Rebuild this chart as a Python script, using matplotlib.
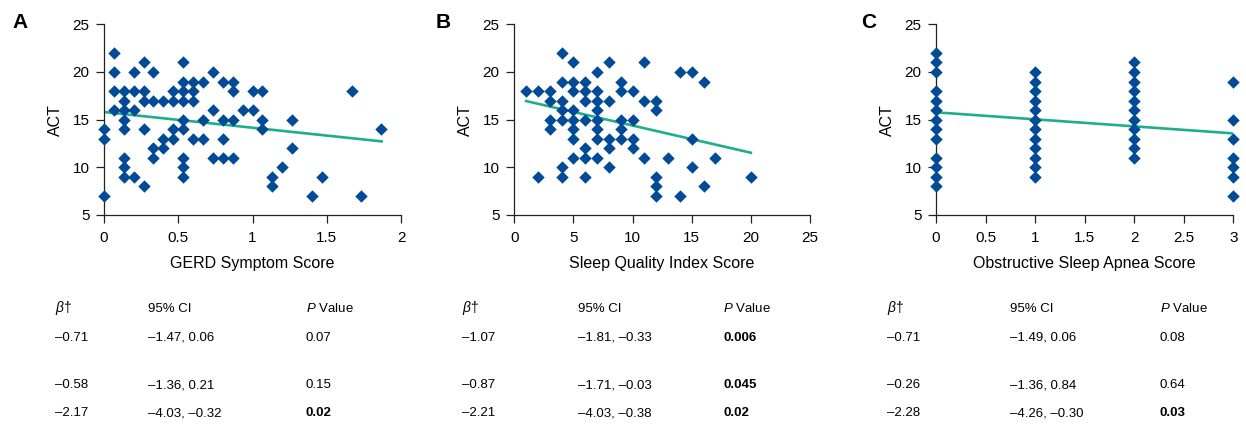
import numpy as np
import matplotlib.pyplot as plt

plt.rcParams['font.family'] = ['Liberation Sans', 'DejaVu Sans']
plt.rcParams['mathtext.fontset'] = 'custom'
plt.rcParams['mathtext.rm'] = 'Liberation Sans'
plt.rcParams['mathtext.it'] = 'Liberation Sans:italic'

# ACT values, grouped by x position
gerd_x = [0, 0.067, 0.133, 0.2, 0.267, 0.333, 0.4, 0.467, 0.533, 0.6, 0.667, 0.733,
          0.8, 0.867, 0.933, 1.0, 1.067, 1.133, 1.2, 1.267, 1.4, 1.467, 1.667, 1.733, 1.867]
gerd_act = [[14, 13, 7], [22, 20, 18, 16], [18, 17, 16, 15, 14, 11, 10, 9], [20, 18, 16, 9],
            [21, 18, 17, 14, 8], [20, 17, 12, 11], [17, 13, 12], [18, 17, 14, 13],
            [21, 19, 18, 17, 15, 14, 11, 10, 9], [19, 18, 17, 13], [19, 15, 13], [20, 16, 11],
            [19, 15, 13, 11], [19, 18, 15, 11], [16], [18, 16], [18, 15, 14], [9, 8], [10],
            [15, 12], [7], [9], [18], [7], [14]]

sleep_x = [1, 2, 3, 4, 5, 6, 7, 8, 9, 10, 11, 12, 13, 14, 15, 16, 17, 20]
sleep_act = [[18], [18, 9], [18, 17, 15, 14], [22, 19, 17, 16, 15, 10, 9],
             [21, 19, 18, 16, 15, 14, 13, 11], [19, 18, 17, 15, 12, 11, 9],
             [20, 18, 17, 16, 15, 14, 13, 11], [21, 17, 13, 12, 10], [19, 18, 15, 14, 13],
             [18, 15, 13, 12], [21, 17, 11], [17, 16, 9, 8, 7], [11], [20, 7], [20, 13, 10],
             [19, 8], [11], [9]]

osa_x = [0, 1, 2, 3]
osa_act = [[22, 21, 20, 18, 17, 16, 15, 14, 13, 11, 10, 9, 8],
           [20, 19, 18, 17, 16, 15, 14, 13, 12, 11, 10, 9],
           [21, 20, 19, 18, 17, 16, 15, 14, 13, 12, 11],
           [19, 15, 13, 11, 10, 9, 7]]

# fitted lines (end points)
gerd_fit_x, gerd_fit_y = [0, 1.87], [15.8, 12.72]
sleep_fit_x, sleep_fit_y = [1, 20], [16.95, 11.53]
osa_fit_x, osa_fit_y = [0, 3], [15.77, 13.56]

panel_letters = ['A', 'B', 'C']
x_labels = ['GERD Symptom Score', 'Sleep Quality Index Score', 'Obstructive Sleep Apnea Score']
x_ticks = [[0, 0.5, 1, 1.5, 2], [0, 5, 10, 15, 20, 25], [0, 0.5, 1, 1.5, 2, 2.5, 3]]
x_tick_labels = [['0', '0.5', '1', '1.5', '2'], ['0', '5', '10', '15', '20', '25'],
                 ['0', '0.5', '1', '1.5', '2', '2.5', '3']]

# table under each panel: beta, 95% CI, P value (bold = significant)
beta = [['–0.71', '–0.58', '–2.17'], ['–1.07', '–0.87', '–2.21'], ['–0.71', '–0.26', '–2.28']]
ci = [['–1.47, 0.06', '–1.36, 0.21', '–4.03, –0.32'],
      ['–1.81, –0.33', '–1.71, –0.03', '–4.03, –0.38'],
      ['–1.49, 0.06', '–1.36, 0.84', '–4.26, –0.30']]
pval = [['0.07', '0.15', '0.02'], ['0.006', '0.045', '0.02'], ['0.08', '0.64', '0.03']]
pbold = [[False, False, True], [True, True, True], [False, False, True]]

W, H = 1246, 428
fig = plt.figure(figsize=(W / 100, H / 100), dpi=100)

blue = '#004a98'
green = '#1fae8b'

# pixel rects (left, right) of each axes; y: 25 at 24.3px, 5 at 215px
ax_px = [(104, 401), (514.3, 810), (936, 1233.3)]
top_px, bot_px = 24.3, 215

datasets = [(gerd_x, gerd_act, gerd_fit_x, gerd_fit_y),
            (sleep_x, sleep_act, sleep_fit_x, sleep_fit_y),
            (osa_x, osa_act, osa_fit_x, osa_fit_y)]

for i, (xs, acts, fx, fy) in enumerate(datasets):
    l, r = ax_px[i]
    ax = fig.add_axes([l / W, 1 - bot_px / H, (r - l) / W, (bot_px - top_px) / H])
    px = np.concatenate([[x] * len(a) for x, a in zip(xs, acts)])
    py = np.concatenate(acts)
    ax.scatter(px, py, marker='D', s=40, color=blue, linewidths=0, clip_on=False, zorder=3)
    ax.plot(fx, fy, color=green, lw=1.9, zorder=2)

    ax.set_xlim(x_ticks[i][0], x_ticks[i][-1])
    ax.set_ylim(5, 25)
    ax.set_xticks(x_ticks[i])
    ax.set_xticklabels(x_tick_labels[i])
    ax.set_yticks([5, 10, 15, 20, 25])
    for s in ['top', 'right']:
        ax.spines[s].set_visible(False)
    for s in ['left', 'bottom']:
        ax.spines[s].set_linewidth(0.9)
        ax.spines[s].set_color('#222222')
    ax.tick_params(axis='both', direction='out', length=5.5, width=0.9, color='#222222',
                   labelsize=11)
    ax.tick_params(axis='x', pad=6)
    ax.tick_params(axis='y', pad=5)
    ax.set_xlabel(x_labels[i], fontsize=11.5, labelpad=8)
    ax.set_ylabel('ACT', fontsize=11.5, labelpad=7)

# panel letters
letter_x = [12, 436, 861]
for lx, t in zip(letter_x, panel_letters):
    fig.text(lx / W, 1 - 22 / H, t, fontsize=15, fontweight='bold', va='center', ha='left')

# tables (text placed on a common baseline per row)
col_x = [(55, 148, 306), (462, 578, 723), (887, 1010, 1160)]
head_y = 312
row_y = [341, 388, 416]
for i in range(3):
    bx, cx, pxx = col_x[i]
    hy = 1 - head_y / H
    fig.text(bx / W, hy, r'$\beta$†', fontsize=10, va='baseline', ha='left')
    fig.text(cx / W, hy, '95% CI', fontsize=9.5, va='baseline', ha='left')
    fig.text(pxx / W, hy, r'$P$ Value', fontsize=9.5, va='baseline', ha='left')
    for j in range(3):
        yy = 1 - row_y[j] / H
        fig.text(bx / W, yy, beta[i][j], fontsize=9.5, va='baseline', ha='left')
        fig.text(cx / W, yy, ci[i][j], fontsize=9.5, va='baseline', ha='left')
        fig.text(pxx / W, yy, pval[i][j], fontsize=9.5, va='baseline', ha='left',
                 fontweight='bold' if pbold[i][j] else 'normal')

fig.savefig('out.png', dpi=100)
